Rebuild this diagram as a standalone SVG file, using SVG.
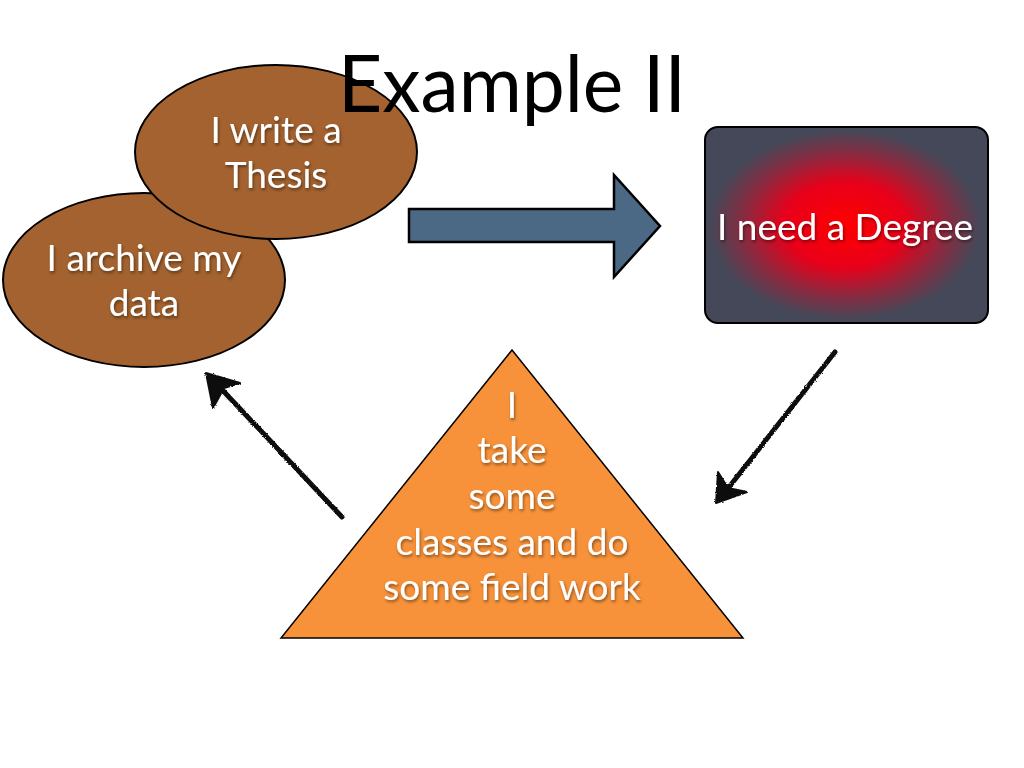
<svg xmlns="http://www.w3.org/2000/svg" width="1024" height="768" viewBox="0 0 1024 768">
  <style>
    .label { font-family: "Lato", "Open Sans", "Liberation Sans", sans-serif; font-size: 37px; fill: #ffffff; text-anchor: middle; }
    .title { font-family: "Lato", "Open Sans", "Liberation Sans", sans-serif; font-size: 80px; fill: #000000; }
    .oval { fill: #a3622f; stroke: #000; stroke-width: 2; }
    .sketch { fill: none; stroke: #111; stroke-width: 5; stroke-linecap: round; stroke-linejoin: round; }
    .sketch-head { fill: #111; stroke: #111; stroke-width: 2; stroke-linejoin: round; }
  </style>
  <defs>
    <filter id="shadow" x="-10%" y="-30%" width="120%" height="160%">
      <feDropShadow dx="1" dy="2" stdDeviation="1.5" flood-color="#000" flood-opacity="0.45"/>
    </filter>
    <filter id="rough" x="-10%" y="-10%" width="120%" height="120%">
      <feTurbulence type="fractalNoise" baseFrequency="0.9" numOctaves="2" seed="3" result="n"/>
      <feDisplacementMap in="SourceGraphic" in2="n" scale="2.5" xChannelSelector="R" yChannelSelector="G"/>
    </filter>
    <radialGradient id="glow" cx="845" cy="225" r="135" gradientUnits="userSpaceOnUse" gradientTransform="translate(845 225) scale(1 0.7) translate(-845 -225)">
      <stop offset="0" stop-color="#ff0000"/>
      <stop offset="0.45" stop-color="#e8001a"/>
      <stop offset="0.75" stop-color="#8a2a40"/>
      <stop offset="1" stop-color="#454858"/>
    </radialGradient>
  </defs>

  <rect width="1024" height="768" fill="#ffffff"/>

  <!-- connectors -->
  <g id="connectors">
    <g id="block-arrow">
      <polygon points="409,209 614,209 614,175 660,226 614,277 614,242 409,242" fill="#4b6884" stroke="#000" stroke-width="2.5" stroke-linejoin="miter"/>
    </g>
    <g id="sketch-arrow-degree-to-work" filter="url(#rough)">
      <line class="sketch" x1="835" y1="352" x2="722" y2="496"/>
      <polygon class="sketch-head" points="716,503 718,472 728,488 747,492"/>
    </g>
    <g id="sketch-arrow-work-to-archive" filter="url(#rough)">
      <line class="sketch" x1="342" y1="517" x2="212" y2="379"/>
      <polygon class="sketch-head" points="206,373 240,383 224,388 213,408"/>
    </g>
  </g>

  <!-- archive node -->
  <g id="node-archive">
    <ellipse class="oval" cx="144" cy="280" rx="141" ry="87"/>
    <g filter="url(#shadow)">
      <text class="label" x="144" y="271">I archive my</text>
      <text class="label" x="144" y="316">data</text>
    </g>
  </g>

  <!-- thesis node -->
  <g id="node-thesis">
    <ellipse class="oval" cx="276" cy="152" rx="141" ry="87"/>
    <g filter="url(#shadow)">
      <text class="label" x="276" y="143">I write a</text>
      <text class="label" x="276" y="188">Thesis</text>
    </g>
  </g>

  <!-- degree node -->
  <g id="node-degree">
    <rect x="705" y="127" width="283" height="196" rx="13" ry="13" fill="url(#glow)" stroke="#000" stroke-width="2"/>
    <text class="label" x="845" y="240" filter="url(#shadow)">I need a Degree</text>
  </g>

  <!-- coursework node -->
  <g id="node-work">
    <polygon points="512,350 743,638 281,638" fill="#f7923a" stroke="#000" stroke-width="1.5"/>
    <g filter="url(#shadow)">
      <text class="label" x="512" y="418">I</text>
      <text class="label" x="512" y="463">take</text>
      <text class="label" x="512" y="509">some</text>
      <text class="label" x="512" y="555">classes and do</text>
      <text class="label" x="512" y="600">some field work</text>
    </g>
  </g>

  <!-- heading -->
  <text id="title" class="title" x="338" y="112" textLength="348" lengthAdjust="spacingAndGlyphs">Example II</text>
</svg>
